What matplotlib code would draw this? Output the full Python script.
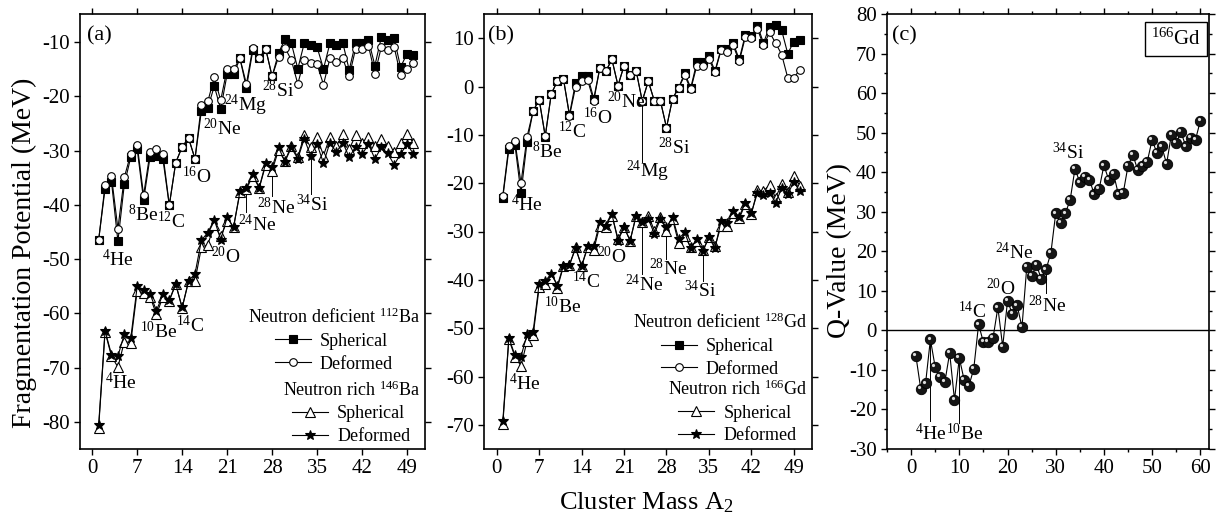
import numpy as np
import matplotlib
matplotlib.use("Agg")
import matplotlib.pyplot as plt
from matplotlib.ticker import MultipleLocator
from matplotlib.transforms import offset_copy

plt.rcParams['font.family'] = ['Liberation Serif', 'DejaVu Serif']
plt.rcParams['mathtext.fontset'] = 'custom'
plt.rcParams['mathtext.rm'] = 'Liberation Serif'
plt.rcParams['mathtext.it'] = 'Liberation Serif:italic'
plt.rcParams['mathtext.bf'] = 'Liberation Serif:bold'
plt.rcParams['axes.unicode_minus'] = False

# ---------------- data ----------------
A2 = np.arange(1, 51)
A2_q = np.arange(1, 61)

# 112Ba (neutron deficient)
ba112_sph = [-46.5, -37.0, -35.7, -46.7, -36.2, -31.2, -29.7, -39.1, -31.2, -30.9,
             -31.5, -40.1, -32.2, -29.3, -27.7, -31.5, -22.6, -22.1, -18.1, -22.3,
             -15.9, -15.9, -13.0, -18.4, -11.5, -13.0, -11.2, -16.3, -12.0, -9.4,
             -10.2, -14.9, -10.2, -10.6, -10.9, -14.9, -10.2, -10.6, -10.1, -15.1,
             -10.1, -10.1, -9.6, -14.3, -9.1, -9.6, -9.3, -14.6, -12.1, -12.3]
ba112_def = [-46.5, -36.4, -34.75, -44.4, -34.9, -30.6, -28.95, -38.2, -30.3, -29.7,
             -30.6, -40.0, -32.2, -29.3, -27.7, -31.5, -21.5, -20.9, -16.5, -20.7,
             -14.9, -15.0, -13.0, -17.7, -11.0, -13.0, -11.2, -16.3, -12.7, -11.0,
             -13.3, -17.7, -13.2, -13.8, -14.1, -17.8, -13.0, -13.6, -13.0, -16.3,
             -11.2, -11.2, -10.7, -15.8, -10.9, -11.4, -10.9, -16.1, -14.9, -13.8]
# 146Ba (neutron rich)
ba146_sph = [-81.1, -63.4, -67.9, -69.9, -65.2, -65.4, -55.8, -56.2, -56.9, -60.2,
             -57.0, -57.7, -54.6, -59.0, -54.1, -54.0, -47.8, -47.3, -43.7, -45.8,
             -43.0, -44.1, -37.7, -37.1, -34.6, -36.9, -32.6, -33.7, -29.9, -31.9,
             -29.1, -31.2, -27.2, -29.4, -27.5, -30.9, -27.5, -29.2, -26.9, -29.7,
             -27.2, -28.5, -27.5, -29.1, -27.8, -29.1, -30.3, -28.5, -26.9, -28.6]
ba146_def = [-80.6, -63.2, -67.6, -67.9, -63.8, -64.6, -55.0, -55.6, -56.4, -59.5,
             -56.5, -57.5, -54.6, -58.9, -54.0, -52.7, -46.5, -45.1, -42.7, -46.4,
             -42.3, -44.1, -37.5, -36.8, -34.3, -36.8, -32.3, -33.1, -29.4, -32.0,
             -29.4, -31.5, -27.8, -30.9, -28.8, -32.3, -28.5, -30.3, -28.5, -31.2,
             -29.3, -30.7, -28.8, -31.5, -29.4, -30.5, -32.6, -30.6, -28.8, -30.6]

# 128Gd (neutron deficient)
gd128_sph = [-23.0, -13.0, -12.0, -22.1, -11.5, -5.1, -2.7, -10.4, -1.5, 1.1,
             1.6, -5.8, 0.8, 2.1, 2.1, -2.5, 3.8, 3.2, 5.6, 0.2,
             4.3, 2.3, 3.2, -3.0, 1.1, -3.0, -3.0, -8.5, -2.5, -0.3,
             2.8, -0.3, 5.0, 5.0, 6.3, 3.2, 7.8, 7.8, 9.0, 5.6,
             10.7, 10.4, 12.6, 9.0, 12.4, 12.8, 11.6, 6.8, 9.3, 9.6]
gd128_def = [-22.6, -12.3, -11.3, -20.0, -10.4, -5.1, -2.7, -10.2, -1.5, 1.1,
             1.6, -6.1, -0.1, 1.1, 1.3, -3.0, 3.8, 3.2, 5.6, 0.2,
             4.3, 2.3, 3.2, -3.0, 1.1, -3.0, -3.0, -8.5, -2.5, -0.3,
             2.3, -0.6, 4.3, 4.3, 5.6, 3.0, 7.5, 7.1, 8.5, 5.2,
             10.2, 10.0, 11.9, 8.5, 11.2, 9.0, 6.6, 1.8, 1.8, 3.5]
# 166Gd (neutron rich)
gd166_sph = [-69.9, -52.3, -55.9, -57.8, -52.7, -51.5, -41.5, -40.8, -39.7, -41.7,
             -37.2, -36.9, -33.3, -37.2, -33.3, -33.8, -28.8, -29.1, -26.7, -31.5,
             -29.1, -31.9, -26.7, -28.1, -26.7, -29.8, -27.1, -29.8, -27.4, -32.4,
             -30.9, -33.3, -31.9, -33.9, -31.2, -33.1, -28.8, -28.8, -26.1, -27.3,
             -24.3, -26.4, -21.4, -21.6, -20.4, -23.0, -20.2, -21.8, -18.6, -20.5]
gd166_def = [-69.3, -52.0, -55.6, -55.9, -51.3, -50.7, -40.8, -40.2, -38.8, -41.2,
             -37.1, -36.9, -33.5, -37.1, -33.1, -33.1, -28.1, -28.9, -26.4, -31.9,
             -29.1, -31.9, -26.7, -28.1, -27.4, -30.5, -27.4, -29.1, -27.1, -31.5,
             -30.2, -33.5, -31.5, -34.1, -31.2, -33.5, -27.8, -28.3, -25.7, -26.9,
             -24.0, -26.1, -22.0, -22.5, -22.0, -24.0, -21.1, -22.3, -19.7, -21.7]

# Q-values for 166Gd
q_val = [-6.5, -14.8, -13.4, -2.3, -9.3, -11.8, -13.1, -5.7, -17.6, -7.0,
         -12.5, -14.0, -9.7, 1.5, -3.0, -3.0, -1.9, 5.8, -4.1, 7.4,
         4.2, 6.3, 0.8, 16.1, 13.8, 16.5, 13.1, 15.4, 19.6, 29.6,
         27.1, 29.6, 33.0, 40.9, 37.4, 38.9, 38.1, 34.4, 35.7, 41.7,
         38.1, 39.6, 34.4, 34.7, 41.6, 44.4, 40.6, 41.5, 42.7, 48.2,
         44.8, 46.5, 42.1, 49.5, 47.5, 50.1, 46.5, 48.6, 48.2, 53.0]

W, H = 1226, 523
fig = plt.figure(figsize=(W / 100, H / 100), dpi=100)


def box(l, r, t=14, b=449):
    return [l / W, 1 - b / H, (r - l) / W, (b - t) / H]


ax_a = fig.add_axes(box(80, 425))
ax_b = fig.add_axes(box(484, 812))
ax_c = fig.add_axes(box(887, 1209))


def style(ax):
    for s in ax.spines.values():
        s.set_linewidth(1.2)
    ax.tick_params(which='both', direction='out', top=True, right=True,
                   labelsize=15, width=1.0, pad=3)
    ax.tick_params(which='major', length=4.5)
    ax.tick_params(which='minor', length=2.5)


def draw_series(ax, y, marker, face, ms, z):
    line, = ax.plot(A2, y, color='black', lw=0.8, marker=marker, ms=ms,
                    mfc=face, mec='black', mew=0.8, zorder=z)
    return line


def two_legends(ax, handles, titles, anchors):
    for hs, title, anc in zip(handles, titles, anchors):
        leg = ax.legend(handles=hs, labels=['Spherical', 'Deformed'], title=title,
                        loc='upper right', bbox_to_anchor=anc, frameon=False,
                        fontsize=13, title_fontsize=13, handlelength=2.0,
                        handletextpad=0.5, labelspacing=0.32, borderpad=0,
                        borderaxespad=0, numpoints=1)
        ax.add_artist(leg)
    # the last legend is already attached as ax.legend_; detach the duplicate
    ax.legend_ = None


def tag(ax, s, x, y, size=14):
    ax.text(x, y, s, ha='center', va='center', fontsize=size, zorder=6)


def stem(ax, x, y_from, y_to):
    ax.plot([x, x], [y_from, y_to], color='black', lw=0.7, zorder=2)


# ---------------- panel (a) ----------------
ax = ax_a
style(ax)
h1 = draw_series(ax, ba112_sph, 's', 'black', 5.5, 3)
h2 = draw_series(ax, ba112_def, 'o', 'white', 5.5, 4)
h3 = draw_series(ax, ba146_sph, '^', 'white', 6.5, 3)
h4 = draw_series(ax, ba146_def, '*', 'black', 7.0, 4)
ax.set_xlim(-1.9, 51.8)
ax.set_ylim(-85, -4.8)
ax.xaxis.set_major_locator(MultipleLocator(7))
ax.yaxis.set_major_locator(MultipleLocator(10))
ax.text(0.02, 0.972, '(a)', transform=ax.transAxes, fontsize=16, ha='left', va='top')

tag(ax, r'$^{4}$He', 4.0, -50.0)
tag(ax, r'$^{8}$Be', 7.9, -41.7)
tag(ax, r'$^{12}$C', 12.3, -43.0)
tag(ax, r'$^{16}$O', 16.2, -34.8)
tag(ax, r'$^{20}$Ne', 20.2, -25.9)
tag(ax, r'$^{24}$Mg', 23.8, -21.6)
tag(ax, r'$^{28}$Si', 28.9, -18.9)
tag(ax, r'$^{4}$He', 4.4, -72.8)
tag(ax, r'$^{10}$Be', 10.3, -63.3)
tag(ax, r'$^{14}$C', 15.2, -62.2)
tag(ax, r'$^{20}$O', 20.8, -49.6)
tag(ax, r'$^{24}$Ne', 25.6, -43.7)
stem(ax, 24, ba146_def[23], -41.3)
tag(ax, r'$^{28}$Ne', 28.6, -40.5)
stem(ax, 28, ba146_sph[27], -38.3)
tag(ax, r'$^{34}$Si', 34.2, -40.0)
stem(ax, 34, ba146_def[33], -38.0)

two_legends(ax, [[h1, h2], [h3, h4]],
            [r'Neutron deficient $^{112}$Ba', r'Neutron rich $^{146}$Ba'],
            [(0.985, 0.325), (0.985, 0.158)])

# ---------------- panel (b) ----------------
ax = ax_b
style(ax)
g1 = draw_series(ax, gd128_sph, 's', 'black', 5.5, 3)
g2 = draw_series(ax, gd128_def, 'o', 'white', 5.5, 4)
g3 = draw_series(ax, gd166_sph, '^', 'white', 6.5, 3)
g4 = draw_series(ax, gd166_def, '*', 'black', 7.0, 4)
ax.set_xlim(-2.1, 52)
ax.set_ylim(-75, 15)
ax.xaxis.set_major_locator(MultipleLocator(7))
ax.yaxis.set_major_locator(MultipleLocator(10))
ax.text(0.012, 0.972, '(b)', transform=ax.transAxes, fontsize=16, ha='left', va='top')

tag(ax, r'$^{4}$He', 5.0, -24.5)
tag(ax, r'$^{8}$Be', 8.4, -13.4)
tag(ax, r'$^{12}$C', 12.5, -9.3)
tag(ax, r'$^{16}$O', 16.6, -6.5)
tag(ax, r'$^{20}$Ne', 21.3, -3.2)
tag(ax, r'$^{24}$Mg', 24.9, -17.5)
stem(ax, 24, gd128_sph[23], -15.7)
tag(ax, r'$^{28}$Si', 29.2, -12.6)
tag(ax, r'$^{4}$He', 4.6, -61.4)
tag(ax, r'$^{10}$Be', 10.9, -45.6)
tag(ax, r'$^{14}$C', 14.7, -40.4)
tag(ax, r'$^{20}$O', 19.0, -35.1)
tag(ax, r'$^{24}$Ne', 24.3, -41.0)
stem(ax, 24, gd166_def[23], -38.8)
tag(ax, r'$^{28}$Ne', 28.2, -37.7)
stem(ax, 28, gd166_sph[27], -35.7)
tag(ax, r'$^{34}$Si', 33.5, -42.3)
stem(ax, 34, gd166_def[33], -40.2)

two_legends(ax, [[g1, g2], [g3, g4]],
            [r'Neutron deficient $^{128}$Gd', r'Neutron rich $^{166}$Gd'],
            [(0.985, 0.313), (0.985, 0.160)])

# ---------------- panel (c) ----------------
ax = ax_c
style(ax)
ax.axhline(0, color='black', lw=1.0, zorder=1)
ax.plot(A2_q, q_val, color='black', lw=0.8, zorder=3)
ax.plot(A2_q, q_val, 'o', ms=7.5, mfc='#151515', mec='black', mew=0.6, zorder=4)
shine = offset_copy(ax.transData, fig=fig, x=-1.3, y=1.3, units='points')
ax.plot(A2_q, q_val, 'o', ms=2.3, mfc='#dcdcdc', mec='none', transform=shine, zorder=5)
ax.set_xlim(-5, 61.8)
ax.set_ylim(-30, 80)
ax.xaxis.set_major_locator(MultipleLocator(10))
ax.xaxis.set_minor_locator(MultipleLocator(5))
ax.yaxis.set_major_locator(MultipleLocator(10))
ax.yaxis.set_minor_locator(MultipleLocator(5))
ax.text(0.016, 0.972, '(c)', transform=ax.transAxes, fontsize=16, ha='left', va='top')
ax.text(0.898, 0.943, r'$^{166}$Gd', transform=ax.transAxes, fontsize=15,
        ha='center', va='center',
        bbox=dict(boxstyle='square,pad=0.3', fc='white', ec='black', lw=1.0))

tag(ax, r'$^{4}$He', 4.1, -26.1)
stem(ax, 4, q_val[3], -22.8)
tag(ax, r'$^{10}$Be', 11.2, -26.1)
stem(ax, 10, q_val[9], -23.4)
tag(ax, r'$^{14}$C', 12.7, 4.8)
tag(ax, r'$^{20}$O', 18.7, 10.7)
tag(ax, r'$^{24}$Ne', 21.4, 19.8)
tag(ax, r'$^{28}$Ne', 28.2, 6.3)
stem(ax, 28, q_val[27], 9.4)
tag(ax, r'$^{34}$Si', 32.6, 44.9)

# ---------------- axis titles ----------------
fig.text(24 / W, 1 - 253 / H, 'Fragmentation Potential (MeV)', rotation=90,
         ha='center', va='center', fontsize=20)
fig.text(840 / W, 1 - 250 / H, 'Q-Value (MeV)', rotation=90,
         ha='center', va='center', fontsize=20)
fig.text(646 / W, 1 - 503 / H, r'Cluster Mass A$_2$', ha='center', va='center',
         fontsize=19)

fig.savefig('out.png', dpi=100)
